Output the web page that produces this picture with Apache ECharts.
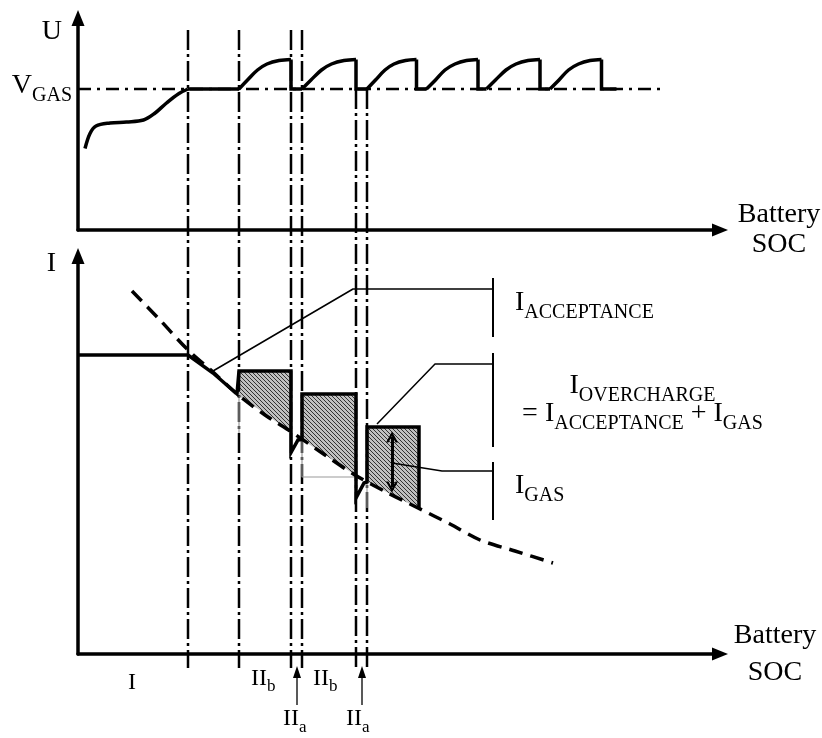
<!DOCTYPE html>
<html>
<head>
<meta charset="utf-8">
<script src="https://cdn.jsdelivr.net/npm/echarts@6/dist/echarts.min.js"></script>
<style>
html, body { margin: 0; padding: 0; background: #fff; }
#chart { width: 822px; height: 738px; }
</style>
</head>
<body>
<div id="chart"></div>
<script>
// schematic: SOC on x (arbitrary units), U (top) and I (bottom) in arbitrary units
const vGas = 28.2
const socMarks = [22, 32.2, 42.6, 44.8, 55.6, 57.8]
const markTops = [40, 40, 40, 40, vGas, vGas]
const markBottom = -87.6

// initial voltage rise up to V_GAS
const voltageStart = [
  [1.4, 16.3], [2.4, 19.3], [3.6, 20.8], [6.4, 21.4], [9.7, 21.6], [13.1, 22.0],
  [15.3, 23.3], [17.7, 25.4], [20.2, 27.3], [22, 28.2]
]
// overcharge pulses: rise from V_GAS to the peak, then drop back
const voltageRises = [
  [[32.2, 28.2], [33.9, 30.0], [35.9, 32.0], [37.8, 33.2], [40.2, 33.9], [42.6, 34.1]],
  [[44.8, 28.2], [46.6, 30.0], [48.7, 32.0], [50.7, 33.2], [53.2, 33.9], [55.6, 34.1]],
  [[57.8, 28.2], [59.5, 30.0], [61.4, 32.0], [63.2, 33.2], [65.5, 33.9], [67.7, 34.1]],
  [[69.7, 28.2], [71.5, 30.0], [73.4, 32.0], [75.4, 33.2], [77.7, 33.9], [80.0, 34.1]],
  [[81.7, 28.2], [83.5, 30.0], [85.6, 32.0], [87.6, 33.2], [90.0, 33.9], [92.4, 34.1]],
  [[94.4, 28.2], [96.2, 30.0], [98.1, 32.0], [100.1, 33.2], [102.4, 33.9], [104.7, 34.1]]
]
const voltageEnd = 107.7
const vGasLine = [[0, vGas], [116.4, vGas]]

const acceptance = [
  [10.8, 72.6], [16.4, 66.8], [22, 60.8], [27, 56.4], [31.8, 52], [37.4, 47.8],
  [43, 44.2], [49.4, 39.8], [55.4, 35.8], [62, 32.2], [68, 29.2], [74.4, 26],
  [80.4, 22.8], [87.4, 20.6], [95, 18.2]
]
const chargeCurrent = [
  [0, 59.8], [22, 59.8], [27, 56.2], [31.8, 52], [32.2, 51.7], [32.2, 56.6], [42.6, 56.6],
  [42.6, 40.3], [44.0, 42.8], [44.8, 42.9], [44.8, 52], [55.6, 52],
  [55.6, 31.2], [57.2, 34.2], [57.8, 34.4], [57.8, 45.4], [68.2, 45.4], [68.2, 29.1]
]
// [soc left, soc right, top, bottom left, bottom right]
const gasBoxes = [
  [32.2, 42.6, 56.6, 51.7, 44.4],
  [44.8, 55.6, 52, 42.9, 35.7],
  [57.8, 68.2, 45.4, 34.4, 29.1]
]
const thinGuides = [
  [[32.2, 51.7], [32.2, 44.2]],
  [[44.8, 42.9], [44.8, 35.4], [55.6, 35.4]],
  [[57.8, 34.4], [57.8, 29.2]]
]
const leaders = [
  [[27, 56.6], [55, 73], [83, 73]],
  [[59.8, 46], [71.4, 58], [83, 58]],
  [[62.8, 38.2], [72.8, 36.6], [83, 36.6]]
]
const brackets = [[75.2, 63.4], [60.2, 41.4], [38.4, 26.8]]
const bracketSoc = 83
const gasArrow = [62.8, 43.4, 33.4]
const phaseArrows = [43.8, 56.8]
const phaseArrowSpan = [-10.2, -3.6]

const serif = 'Liberation Serif'
const tok = (size, lh, pad) => ({ fontSize: size, lineHeight: lh, padding: pad, fontFamily: serif, color: '#000', textBorderWidth: 0, opacity: 1 })
const rich = {
  m: tok(28, 28, [0, 0, 7, 0]),
  s: tok(20, 20, [14, 0, 1, 0]),
  p: tok(24, 24, [0, 0, 6, 0]),
  q: tok(17, 17, [12, 0, 1, 0])
}

const hatch = (function () {
  const c = document.createElement('canvas')
  c.width = 4; c.height = 4
  const g = c.getContext('2d')
  g.fillStyle = '#c0c0c0'; g.fillRect(0, 0, 4, 4)
  g.strokeStyle = '#333'; g.lineWidth = 1
  g.beginPath()
  g.moveTo(-1, -1); g.lineTo(5, 5)
  g.moveTo(-1, 3); g.lineTo(1, 5)
  g.moveTo(3, -1); g.lineTo(5, 1)
  g.stroke()
  return c
})()

const line = (grid, data, style, extra) => Object.assign({
  type: 'line', xAxisIndex: grid, yAxisIndex: grid, data: data,
  symbol: 'none', clip: false, silent: true, animation: false,
  lineStyle: Object.assign({ color: '#000', width: 3 }, style)
}, extra || {})

const labels = (grid, items) => ({
  type: 'scatter', xAxisIndex: grid, yAxisIndex: grid, symbolSize: 0, clip: false, silent: true, z: 10,
  itemStyle: { color: '#000', opacity: 1 },
  data: items.map(t => ({
    value: t.at,
    label: {
      show: true, position: 'inside', formatter: t.text, align: t.align || 'left', verticalAlign: 'middle',
      color: '#000', opacity: 1, textBorderWidth: 0, fontFamily: serif, rich: rich
    }
  }))
})

const axisBase = {
  type: 'value', min: 0,
  axisTick: { show: false }, axisLabel: { show: false }, splitLine: { show: false },
  axisLine: { show: true, onZero: false, symbol: ['none', 'triangle'], symbolSize: [13, 16], lineStyle: { color: '#000', width: 3.5 } },
  nameTextStyle: { fontFamily: serif, fontSize: 28, color: '#000' }
}

const chevron = 'path://M0,10 L6,0 L12,10 L9.6,10 L6,4.2 L2.4,10 Z'

const series = []
// top panel
series.push(line(0, vGasLine, { width: 2.5, type: [13, 6, 3, 6] }))
socMarks.forEach((s, i) => series.push(line(0, [[s, markTops[i]], [s, markBottom]], { width: 2.5, type: [20, 4, 3, 4] })))
series.push(line(0, voltageStart, { width: 3.5 }, { smooth: 0.35 }))
series.push(line(0, [voltageStart[voltageStart.length - 1], voltageRises[0][0]], { width: 3.5 }))
voltageRises.forEach((r, i) => {
  const peak = r[r.length - 1]
  const next = i + 1 < voltageRises.length ? voltageRises[i + 1][0] : [voltageEnd, vGas]
  series.push(line(0, r, { width: 3.5 }, { smooth: 0.35 }))
  series.push(line(0, [peak, [peak[0], vGas], next], { width: 3.5, join: 'miter' }))
})
series.push(labels(0, [{ at: [-1.2, vGas], text: '{m|V}{s|GAS}', align: 'right' }]))
// bottom panel
series.push({
  type: 'custom', xAxisIndex: 1, yAxisIndex: 1, z: 1, silent: true,
  data: gasBoxes,
  encode: { x: [0, 1], y: [2, 3, 4] },
  renderItem: (params, api) => ({
    type: 'polygon',
    shape: { points: [[api.value(0), api.value(2)], [api.value(1), api.value(2)], [api.value(1), api.value(4)], [api.value(0), api.value(3)]].map(p => api.coord(p)) },
    style: { fill: { image: hatch, repeat: 'repeat' } }
  })
})
thinGuides.forEach(d => series.push(line(1, d, { width: 1.2, color: '#9a9a9a' })))
series.push(line(1, acceptance, { width: 3.5, type: [14, 8] }, { smooth: 0.3 }))
series.push(line(1, chargeCurrent, { width: 3.5, join: 'miter' }, {
  markLine: {
    silent: true, animation: false, label: { show: false },
    emphasis: { disabled: true },
    lineStyle: { color: '#000', width: 3, type: 'solid' },
    data: [
      [{ coord: [gasArrow[0], gasArrow[1]], symbol: chevron, symbolSize: [12, 11] },
       { coord: [gasArrow[0], gasArrow[2]], symbol: chevron, symbolSize: [12, 11] }]
    ]
  }
}))
leaders.forEach(d => series.push(line(1, d, { width: 1.5 })))
brackets.forEach(b => series.push(line(1, [[bracketSoc, b[0]], [bracketSoc, b[1]]], { width: 2 })))
// small arrows pointing at the short II_a phases
phaseArrows.forEach(s => series.push(line(1, [[s, phaseArrowSpan[0]], [s, phaseArrowSpan[1]]], { width: 1.5, color: '#222' })))
series.push({
  type: 'scatter', xAxisIndex: 1, yAxisIndex: 1, clip: false, silent: true, z: 5,
  symbol: 'triangle', symbolSize: [8, 12], itemStyle: { color: '#000', opacity: 1 },
  data: phaseArrows.map(s => [s, phaseArrowSpan[1]])
})
series.push(labels(1, [
  { at: [87.4, 69.6], text: '{m|I}{s|ACCEPTANCE}' },
  { at: [112.9, 50.2], text: '{m|I}{s|OVERCHARGE}\n{m|= I}{s|ACCEPTANCE}{m| + I}{s|GAS}', align: 'center' },
  { at: [87.4, 33], text: '{m|I}{s|GAS}' },
  { at: [10.8, -6.4], text: '{p|I}', align: 'center' },
  { at: [34.6, -5.5], text: '{p|II}{q|b}' },
  { at: [47, -5.5], text: '{p|II}{q|b}' },
  { at: [41, -13.6], text: '{p|II}{q|a}' },
  { at: [53.6, -13.6], text: '{p|II}{q|a}' }
]))

const chart = echarts.init(document.getElementById('chart'))
chart.setOption({
  animation: false,
  backgroundColor: '#fff',
  grid: [
    { left: 78, top: 18, width: 642, height: 212 },
    { left: 78, top: 256, width: 642, height: 398 }
  ],
  xAxis: [
    Object.assign({}, axisBase, { gridIndex: 0, max: 128.4, name: 'Battery\nSOC', nameLocation: 'end', nameGap: 59,
      nameTextStyle: { fontFamily: serif, fontSize: 28, color: '#000', lineHeight: 30, align: 'center', verticalAlign: 'middle' } }),
    Object.assign({}, axisBase, { gridIndex: 1, max: 128.4, name: 'Battery\nSOC', nameLocation: 'end', nameGap: 55,
      nameTextStyle: { fontFamily: serif, fontSize: 28, color: '#000', lineHeight: 37, align: 'center', verticalAlign: 'middle', padding: [0, 0, 16, 0] } })
  ],
  yAxis: [
    Object.assign({}, axisBase, { gridIndex: 0, max: 42.4, name: 'U', nameLocation: 'end', nameGap: -14,
      nameTextStyle: { fontFamily: serif, fontSize: 28, color: '#000', align: 'right', verticalAlign: 'middle', padding: [0, 16, 0, 0] } }),
    Object.assign({}, axisBase, { gridIndex: 1, max: 79.6, name: 'I', nameLocation: 'end', nameGap: -8,
      nameTextStyle: { fontFamily: serif, fontSize: 28, color: '#000', align: 'right', verticalAlign: 'middle', padding: [0, 22, 0, 0] } })
  ],
  series: series
})
</script>
</body>
</html>
